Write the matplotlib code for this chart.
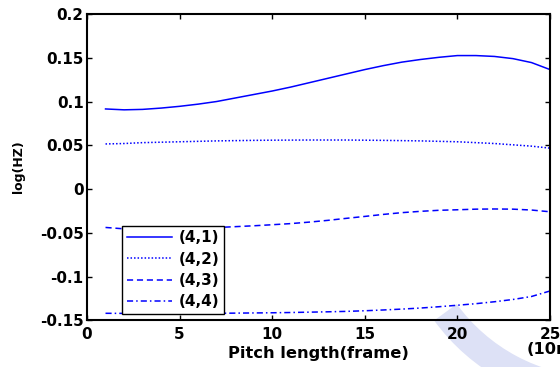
import matplotlib
matplotlib.use("Agg")
import matplotlib.pyplot as plt
import matplotlib.transforms as mtransforms
from matplotlib.patches import Wedge
import numpy as np

# pitch length in frames
frames = np.arange(1, 26)

# log(HZ) for each (4,k) component
s41 = [0.0915, 0.0905, 0.0910, 0.0925, 0.0945, 0.0970, 0.1000, 0.1040, 0.1080, 0.1120,
       0.1165, 0.1215, 0.1265, 0.1315, 0.1365, 0.1410, 0.1450, 0.1480, 0.1505, 0.1525,
       0.1525, 0.1515, 0.1490, 0.1445, 0.1365]
s42 = [0.0515, 0.0520, 0.0530, 0.0535, 0.0540, 0.0545, 0.0550, 0.0553, 0.0556, 0.0558,
       0.0559, 0.0560, 0.0560, 0.0560, 0.0558, 0.0556, 0.0553, 0.0550, 0.0545, 0.0540,
       0.0530, 0.0520, 0.0505, 0.0490, 0.0467]
s43 = [-0.0439, -0.0455, -0.0455, -0.0450, -0.0447, -0.0445, -0.0440, -0.0430, -0.0420, -0.0408,
       -0.0395, -0.0378, -0.0358, -0.0335, -0.0313, -0.0290, -0.0270, -0.0255, -0.0243, -0.0237,
       -0.0230, -0.0228, -0.0230, -0.0240, -0.0260]
s44 = [-0.1420, -0.1421, -0.1422, -0.1422, -0.1422, -0.1421, -0.1420, -0.1418, -0.1416, -0.1414,
       -0.1411, -0.1407, -0.1403, -0.1398, -0.1391, -0.1382, -0.1372, -0.1360, -0.1345, -0.1328,
       -0.1310, -0.1288, -0.1262, -0.1228, -0.1165]
names = ["(4,1)", "(4,2)", "(4,3)", "(4,4)"]

xticks = [0, 5, 10, 15, 20, 25]
yticks = [-0.15, -0.1, -0.05, 0, 0.05, 0.1, 0.15, 0.2]
ylabels = ["-0.15", "-0.1", "-0.05", "0", "0.05", "0.1", "0.15", "0.2"]

plt.rcParams['font.family'] = ['DejaVu Sans']
plt.rcParams['font.weight'] = 'bold'

W, H = 560, 367
fig = plt.figure(figsize=(W / 100, H / 100), dpi=100)

# faint logo ring under the lower right corner (pixel units, y up)
px = mtransforms.Affine2D().scale(1 / W, 1 / H) + fig.transFigure
ring = Wedge((600, H - 200), 205, 216, 268, width=28, transform=px,
             facecolor='#dde1f6', edgecolor='none', zorder=-5)
fig.patches.append(ring)

ax = fig.add_axes([87 / W, 1 - 320.3 / H, 463 / W, 306.3 / H])
ax.patch.set_alpha(0)

blue = '#0000ff'
ax.plot(frames, s41, color=blue, lw=1.1, ls='-', label=names[0])
ax.plot(frames, s42, color=blue, lw=1.1, ls=(0, (1, 1.3)), label=names[1])
ax.plot(frames, s43, color=blue, lw=1.1, ls=(0, (4, 2.5)), label=names[2])
ax.plot(frames, s44, color=blue, lw=1.1, ls=(0, (4, 2, 1, 2)), label=names[3])

ax.set_xlim(0, 25)
ax.set_ylim(-0.15, 0.2)
ax.set_xticks(xticks)
ax.set_yticks(yticks)
ax.set_yticklabels(ylabels)
ax.tick_params(direction='in', length=3.5, width=1, top=True, right=True,
               labelsize=11, pad=2.5)
ax.tick_params(axis='x', pad=4.5)
for lab in ax.get_xticklabels() + ax.get_yticklabels():
    lab.set_fontweight('bold')
for sp in ax.spines.values():
    sp.set_linewidth(1.5)

ax.set_xlabel("Pitch length(frame)", fontsize=11.7, fontweight='bold')
ax.xaxis.label.set_va('baseline')
ax.xaxis.set_label_coords(0.5, (320.3 - 358) / 306.3)
ax.set_ylabel("log(HZ)", fontsize=9, fontweight='bold')
ax.yaxis.label.set_va('center')
ax.yaxis.set_label_coords((18 - 87) / 463, 0.502)

fig.text(527 / W, 1 - 354 / H, "(10ms)", fontsize=11.7, fontweight='bold',
         ha='left', va='baseline')

leg = ax.legend(loc='lower left', bbox_to_anchor=((122 - 87) / 463, (320.3 - 314) / 306.3),
                borderaxespad=0, fancybox=False, edgecolor='black', framealpha=1,
                prop={'size': 11, 'weight': 'bold'}, handlelength=3.0,
                handletextpad=0.4, labelspacing=0.42, borderpad=0.3)
leg.get_frame().set_linewidth(1.0)

fig.savefig("out.png", dpi=100)
